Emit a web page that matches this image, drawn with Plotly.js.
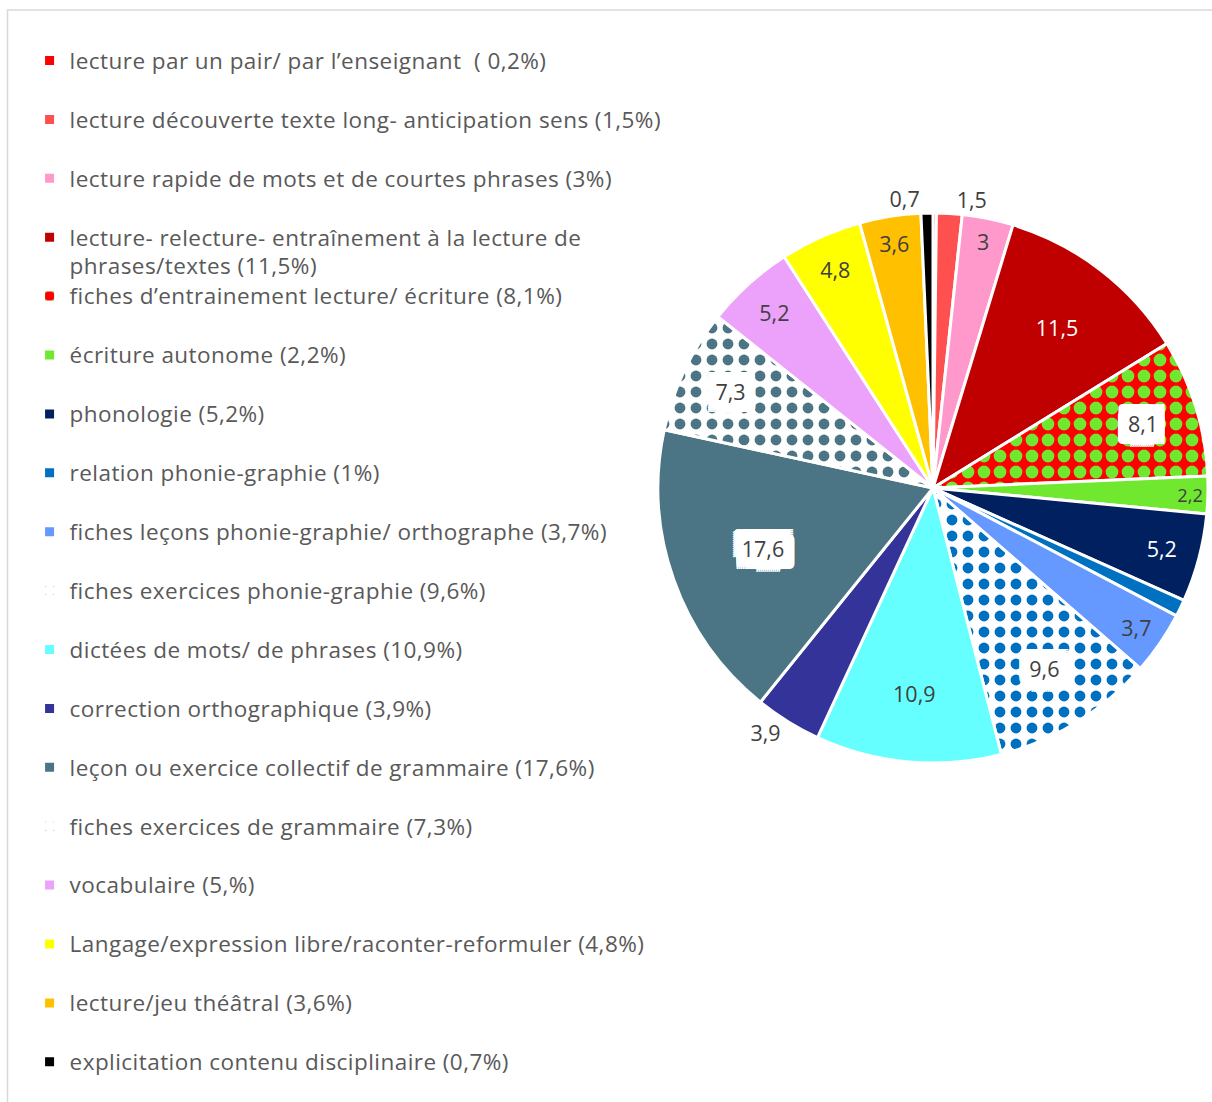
<!DOCTYPE html>
<html>
<head>
<meta charset="utf-8">
<script src="https://cdn.plot.ly/plotly-3.0.1.min.js"></script>
<style>
  html, body { margin: 0; padding: 0; background: #ffffff; }
  #chart { width: 1212px; height: 1102px; }
</style>
</head>
<body>
<div id="chart"></div>
<script>
// ---- Data ----
const categories = [
  "lecture par un pair/ par l’enseignant  ( 0,2%)",
  "lecture découverte texte long- anticipation sens (1,5%)",
  "lecture rapide de mots et de courtes phrases (3%)",
  "lecture- relecture- entraînement à la lecture de<br>phrases/textes (11,5%)",
  "fiches d’entrainement lecture/ écriture (8,1%)",
  "écriture autonome (2,2%)",
  "phonologie (5,2%)",
  "relation phonie-graphie (1%)",
  "fiches leçons phonie-graphie/ orthographe (3,7%)",
  "fiches exercices phonie-graphie (9,6%)",
  "dictées de mots/ de phrases (10,9%)",
  "correction orthographique (3,9%)",
  "leçon ou exercice collectif de grammaire (17,6%)",
  "fiches exercices de grammaire (7,3%)",
  "vocabulaire (5,%)",
  "Langage/expression libre/raconter-reformuler (4,8%)",
  "lecture/jeu théâtral (3,6%)",
  "explicitation contenu disciplinaire (0,7%)"
];
const values = [0.2, 1.5, 3, 11.5, 8.1, 2.2, 5.2, 1, 3.7, 9.6, 10.9, 3.9, 17.6, 7.3, 5.2, 4.8, 3.6, 0.7];
const showLabel = [false, true, true, true, true, true, true, false, true, true, true, true, true, true, true, true, true, true];
const labelOutside = [false, true, false, false, false, false, false, false, false, false, false, true, false, false, false, false, false, true];
const boxedLabel = [false, false, false, false, true, false, false, false, false, true, false, false, true, true, false, false, false, false];

// ---- Styles ----
const sliceColors = ["#FF0000", "#FF5050", "#FF99CC", "#C00000", "#FF0000", "#70E830", "#002060", "#0070C0",
  "#6699FF", "#FFFFFF", "#66FFFF", "#333399", "#4B7584", "#FFFFFF", "#ECA2FA", "#FFFF00", "#FFC000", "#000000"];
const patternShape = values.map((v, i) => (i === 4 || i === 9 || i === 13) ? "." : "");
const patternFg = ["", "", "", "", "#70E830", "", "", "", "", "#0070C0", "", "", "", "#4B7584", "", "", "", ""];
const patternBg = ["", "", "", "", "#FF0000", "", "", "", "", "#FFFFFF", "", "", "", "#FFFFFF", "", "", "", ""];
const patternSolidity = values.map((v, i) => i === 4 ? 0.5 : 0.36);
const whiteText = [false, false, false, true, false, false, true, false, false, false, false, false, false, false, false, false, false, false];

const FONT = "'Open Sans', 'Noto Sans', sans-serif";

// white label box approximated by a dense set of hard text shadows
const boxShadowParts = [];
for (let dx = -11; dx <= 11; dx += 2) {
  for (let dy = -12; dy <= 12; dy += 2) boxShadowParts.push(dx + "px " + dy + "px 0 #FFFFFF");
}
const boxShadow = boxShadowParts.join(", ");

const lastIdx = categories.length - 1;
const legendLabels = categories.map((c, i) => {
  const txt = (c.indexOf("<br>") >= 0 || i === lastIdx) ? c : c + "<br> ";
  return txt.split("<br>").map(part =>
    '<span style="font-size:22.5px;letter-spacing:0.45px">' + part + "</span>").join("<br>");
});
const textLabels = values.map((v, i) => showLabel[i] ? String(v).replace(".", ",") : "");
const textColors = values.map((v, i) => whiteText[i] ? "#FFFFFF" : "#404040");
const textPositions = values.map((v, i) => labelOutside[i] ? "outside" : "inside");
const textShadows = values.map((v, i) => boxedLabel[i] ? boxShadow : "none");

const trace = {
  type: "pie",
  labels: legendLabels,
  values: values,
  text: textLabels,
  textinfo: "text",
  textposition: textPositions,
  insidetextorientation: "horizontal",
  sort: false,
  direction: "clockwise",
  rotation: 0,
  hoverinfo: "none",
  marker: {
    colors: sliceColors,
    line: { color: "#FFFFFF", width: 3 },
    pattern: {
      shape: patternShape,
      fgcolor: patternFg.map((c, i) => c || sliceColors[i]),
      bgcolor: patternBg.map((c, i) => c || sliceColors[i]),
      size: 16,
      solidity: patternSolidity,
      fillmode: "replace"
    }
  },
  textfont: { family: FONT, size: 21.5, color: textColors },
  insidetextfont: { family: FONT, size: 21.5, color: textColors, shadow: textShadows },
  outsidetextfont: { family: FONT, size: 21.5, color: "#404040" },
  domain: { x: [0.5429, 0.9967], y: [0.3076, 0.8067] }
};

const layout = {
  width: 1212,
  height: 1102,
  margin: { l: 0, r: 0, t: 0, b: 0 },
  paper_bgcolor: "#FFFFFF",
  plot_bgcolor: "#FFFFFF",
  showlegend: true,
  legend: {
    x: 0.0244,
    xanchor: "left",
    y: 0.9637,
    yanchor: "top",
    valign: "top",
    itemwidth: 30,
    font: { family: FONT, size: 21.5, color: "#595959" },
    bgcolor: "rgba(0,0,0,0)",
    traceorder: "normal"
  },
  shapes: [{
    type: "rect", xref: "paper", yref: "paper",
    x0: 0.0062, x1: 1.02, y0: -0.02, y1: 0.991,
    line: { color: "#D9D9D9", width: 1.5 }, fillcolor: "rgba(0,0,0,0)", layer: "below"
  }]
};

Plotly.newPlot("chart", [trace], layout, { displayModeBar: false, staticPlot: true });
</script>
</body>
</html>
